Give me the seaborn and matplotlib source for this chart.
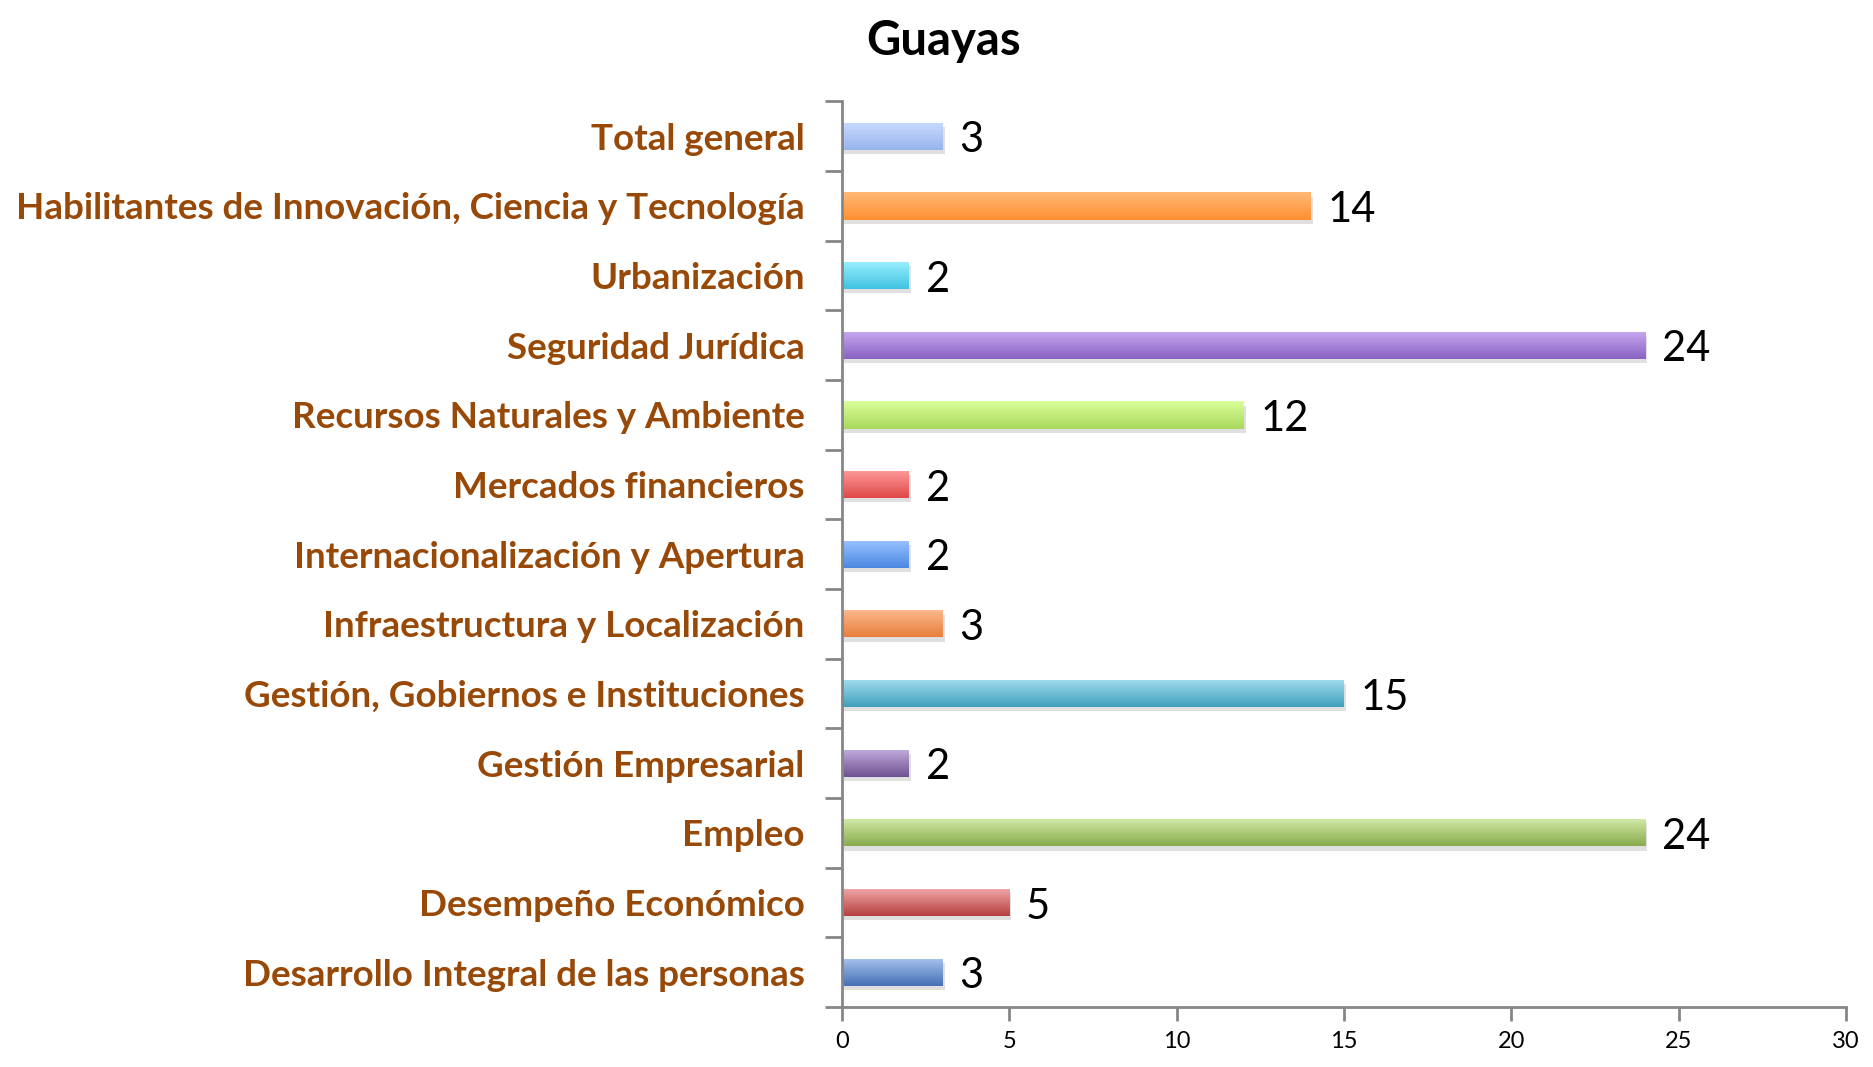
import matplotlib
matplotlib.use("Agg")
import matplotlib.pyplot as plt
import matplotlib.colors as mcolors
import numpy as np
import pandas as pd
import seaborn as sns

categories = [
    "Total general",
    "Habilitantes de Innovación, Ciencia y Tecnología",
    "Urbanización",
    "Seguridad Jurídica",
    "Recursos Naturales y Ambiente",
    "Mercados financieros",
    "Internacionalización y Apertura",
    "Infraestructura y Localización",
    "Gestión, Gobiernos e Instituciones",
    "Gestión Empresarial",
    "Empleo",
    "Desempeño Económico",
    "Desarrollo Integral de las personas",
]
values = [3, 14, 2, 24, 12, 2, 2, 3, 15, 2, 24, 5, 3]
top_colors = ["#C8DAFF", "#FFB878", "#9AF0FF", "#C8A8F0", "#DAFF9A", "#FF9A9A",
              "#9AC2FF", "#FDB890", "#A2DCF0", "#C2AEDC", "#D2EAA8", "#F0A8A8", "#A8C2EE"]
bottom_colors = ["#98B4EC", "#FF9030", "#40C2E2", "#8A62C2", "#A8D85A", "#E04848",
                 "#4A88E0", "#E8803C", "#3FA0BA", "#6E5092", "#88AC4C", "#B84040", "#4571B5"]
title = "Guayas"
x_ticks = [0, 5, 10, 15, 20, 25, 30]

df = pd.DataFrame({"cat": categories, "val": values})

sns.set_theme(style="white")
plt.rcParams["font.family"] = ["Lato", "DejaVu Sans"]

fig = plt.figure(figsize=(18.73, 10.67), dpi=100)
ax = fig.add_axes([0.4496, 0.0562, 0.536, 0.8487])

sns.barplot(data=df, x="val", y="cat", order=categories, color="#cccccc",
            width=0.39, ax=ax, orient="h", saturation=1)

ax.set_xlim(0, 30)
ax.set_ylim(len(categories) - 0.5, -0.5)

# gradient fill and soft shadow on each bar
for patch, ct, cb in zip(ax.patches, top_colors, bottom_colors):
    x0, y0 = patch.get_x(), patch.get_y()
    w, h = patch.get_width(), patch.get_height()
    shadow = plt.Rectangle((x0 + 0.06, y0 + 0.06), w, h, color="#000000",
                           alpha=0.12, lw=0, zorder=1)
    ax.add_patch(shadow)
    patch.set_facecolor("none")
    patch.set_edgecolor("none")
    c1 = np.array(mcolors.to_rgb(ct))
    c2 = np.array(mcolors.to_rgb(cb))
    t = np.linspace(0, 1, 64)[:, None]
    grad = (c1 * (1 - t) + c2 * t)[:, None, :]
    im = ax.imshow(grad, extent=(x0, x0 + w, y0 + h, y0), aspect="auto",
                   interpolation="bilinear", zorder=2)
    im.set_clip_path(patch)

ax.set_xlim(0, 30)
ax.set_ylim(len(categories) - 0.5, -0.5)

# value labels
for i, v in enumerate(values):
    ax.text(v + 0.5, i + 0.06, str(v), va="center", ha="left", fontsize=30,
            color="black", family=["Lato", "DejaVu Sans"])

# axes styling
for s in ["top", "right"]:
    ax.spines[s].set_visible(False)
for s in ["left", "bottom"]:
    ax.spines[s].set_color("#868686")
    ax.spines[s].set_linewidth(2)

ax.set_xticks(x_ticks)
ax.set_xticklabels([str(t) for t in x_ticks], fontsize=17)
ax.tick_params(axis="x", direction="out", length=10, width=2, color="#868686",
               bottom=True, pad=7, labelcolor="black")
ax.set_yticks(range(len(categories)))
ax.set_yticklabels(categories, fontsize=26.5, fontweight="bold", color="#984807")
ax.tick_params(axis="y", length=0, pad=27)
ax.set_yticks(np.arange(-0.5, len(categories), 1), minor=True)
ax.tick_params(axis="y", which="minor", direction="out", length=12, width=2,
               color="#868686", left=True)
ax.set_xlabel("")
ax.set_ylabel("")
ax.grid(False)

fig.text(0.504, 0.962, title, ha="center", va="center", fontsize=34,
         fontweight="bold", color="black")

fig.savefig("out.png", dpi=100, facecolor="white")
